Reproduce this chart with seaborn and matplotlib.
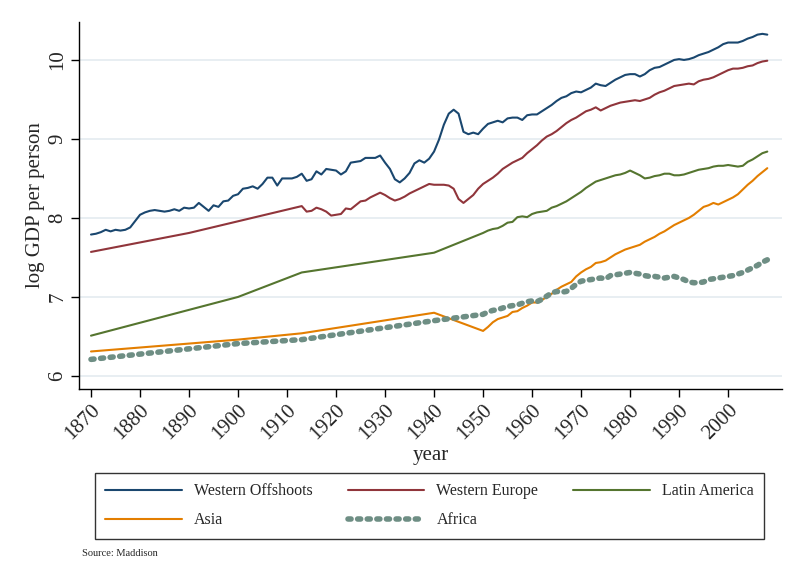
import matplotlib
matplotlib.use("Agg")
import matplotlib.pyplot as plt
import seaborn as sns
import numpy as np
import pandas as pd

# Western Offshoots, annual 1870-2008
wo_years = list(range(1870, 2009))
wo_vals = [
    7.79, 7.80, 7.82, 7.85, 7.83, 7.85, 7.84, 7.85, 7.88, 7.96,
    8.04, 8.07, 8.09, 8.10, 8.09, 8.08, 8.09, 8.11, 8.09, 8.13,
    8.12, 8.13, 8.19, 8.14, 8.09, 8.16, 8.14, 8.21, 8.22, 8.28,
    8.30, 8.37, 8.38, 8.40, 8.37, 8.43, 8.51, 8.51, 8.41, 8.50,
    8.50, 8.50, 8.52, 8.56, 8.47, 8.49, 8.59, 8.55, 8.62, 8.61,
    8.60, 8.55, 8.59, 8.70, 8.71, 8.72, 8.76, 8.76, 8.76, 8.79,
    8.70, 8.62, 8.49, 8.45, 8.50, 8.57, 8.69, 8.73, 8.70, 8.75,
    8.84, 8.99, 9.18, 9.32, 9.37, 9.32, 9.09, 9.06, 9.08, 9.06,
    9.13, 9.19, 9.21, 9.23, 9.21, 9.26, 9.27, 9.27, 9.24, 9.30,
    9.31, 9.31, 9.35, 9.39, 9.43, 9.48, 9.52, 9.54, 9.58, 9.60,
    9.59, 9.62, 9.65, 9.70, 9.68, 9.67, 9.71, 9.75, 9.78, 9.81,
    9.82, 9.82, 9.79, 9.82, 9.87, 9.90, 9.91, 9.94, 9.97, 10.00,
    10.01, 10.00, 10.01, 10.03, 10.06, 10.08, 10.10, 10.13, 10.16, 10.20,
    10.22, 10.22, 10.22, 10.24, 10.27, 10.29, 10.32, 10.33, 10.32,
]

# Western Europe: benchmarks then annual from 1913
we_years = [1870, 1890] + list(range(1913, 2009))
we_vals = [
    7.57, 7.81,
    8.15, 8.08, 8.09, 8.13, 8.11, 8.08, 8.03, 8.04, 8.05, 8.12,
    8.11, 8.16, 8.21, 8.22, 8.26, 8.29, 8.32, 8.29, 8.25, 8.22,
    8.24, 8.27, 8.31, 8.34, 8.37, 8.40, 8.43, 8.42, 8.42, 8.42,
    8.41, 8.37, 8.24, 8.19, 8.24, 8.29, 8.37, 8.43, 8.47, 8.51,
    8.56, 8.62, 8.66, 8.70, 8.73, 8.76, 8.82, 8.87, 8.92, 8.98,
    9.03, 9.06, 9.10, 9.15, 9.20, 9.24, 9.27, 9.31, 9.35, 9.37,
    9.40, 9.36, 9.39, 9.42, 9.44, 9.46, 9.47, 9.48, 9.49, 9.48,
    9.50, 9.52, 9.56, 9.59, 9.61, 9.64, 9.67, 9.68, 9.69, 9.70,
    9.69, 9.73, 9.75, 9.76, 9.78, 9.81, 9.84, 9.87, 9.89, 9.89,
    9.90, 9.92, 9.93, 9.96, 9.98, 9.99,
]

# Latin America: benchmarks then annual from 1950
la_years = [1870, 1900, 1913, 1940] + list(range(1950, 2009))
la_vals = [
    6.51, 7.00, 7.31, 7.56,
    7.81, 7.84, 7.86, 7.87, 7.90, 7.94, 7.95, 8.01, 8.02, 8.01,
    8.05, 8.07, 8.08, 8.09, 8.13, 8.15, 8.18, 8.21, 8.25, 8.29,
    8.33, 8.38, 8.42, 8.46, 8.48, 8.50, 8.52, 8.54, 8.55, 8.57,
    8.60, 8.57, 8.54, 8.50, 8.51, 8.53, 8.54, 8.56, 8.56, 8.54,
    8.54, 8.55, 8.57, 8.59, 8.61, 8.62, 8.63, 8.65, 8.66, 8.66,
    8.67, 8.66, 8.65, 8.66, 8.71, 8.74, 8.78, 8.82, 8.84,
]

# Asia
as_years = [1870, 1900, 1913, 1940] + list(range(1950, 2009))
as_vals = [
    6.31, 6.46, 6.54, 6.80,
    6.57, 6.62, 6.68, 6.72, 6.74, 6.76, 6.81, 6.82, 6.86, 6.89,
    6.93, 6.93, 6.96, 7.00, 7.04, 7.09, 7.13, 7.16, 7.19, 7.26,
    7.31, 7.35, 7.38, 7.43, 7.44, 7.46, 7.50, 7.54, 7.57, 7.60,
    7.62, 7.64, 7.66, 7.70, 7.73, 7.76, 7.80, 7.83, 7.87, 7.91,
    7.94, 7.97, 8.00, 8.04, 8.09, 8.14, 8.16, 8.19, 8.17, 8.20,
    8.23, 8.26, 8.30, 8.36, 8.42, 8.47, 8.53, 8.58, 8.63,
]

# Africa
af_years = [1870, 1900, 1913, 1940] + list(range(1950, 2009))
af_vals = [
    6.21, 6.41, 6.46, 6.70,
    6.78, 6.81, 6.83, 6.84, 6.86, 6.88, 6.89, 6.90, 6.92, 6.94,
    6.95, 6.94, 6.97, 7.01, 7.05, 7.07, 7.06, 7.07, 7.11, 7.16,
    7.20, 7.21, 7.22, 7.23, 7.24, 7.23, 7.27, 7.28, 7.29, 7.30,
    7.31, 7.30, 7.29, 7.27, 7.26, 7.26, 7.25, 7.24, 7.25, 7.26,
    7.24, 7.22, 7.19, 7.18, 7.18, 7.19, 7.22, 7.23, 7.24, 7.25,
    7.26, 7.27, 7.29, 7.31, 7.34, 7.37, 7.40, 7.44, 7.47,
]

x_ticks = list(range(1870, 2001, 10))
y_ticks = [6, 7, 8, 9, 10]

sns.set_theme(style="ticks")
plt.rcParams["font.family"] = ["Liberation Serif", "DejaVu Serif"]

W, H = 802, 581
fig = plt.figure(figsize=(W / 100, H / 100), dpi=100)
ax = fig.add_axes([79 / W, 1 - 389 / H, 703 / W, 367 / H])

series = [
    ("Western Offshoots", wo_years, wo_vals, "#1a476f"),
    ("Western Europe", we_years, we_vals, "#90353b"),
    ("Latin America", la_years, la_vals, "#55752f"),
    ("Asia", as_years, as_vals, "#e37e00"),
]
for name, yrs, vals, col in series:
    sns.lineplot(x=yrs, y=vals, ax=ax, color=col, linewidth=1.5,
                 label=name, estimator=None, sort=False)

sns.lineplot(x=af_years, y=af_vals, ax=ax, color="#6e8e84", linewidth=4,
             linestyle=(0, (0.55, 1.18)), dash_capstyle="round",
             label="Africa", estimator=None, sort=False)

ax.set_xlim(1867.55, 2011.0)
ax.set_ylim(5.835, 10.48)
ax.set_xticks(x_ticks)
ax.set_yticks(y_ticks)
ax.yaxis.grid(True, color="#e6edf1", linewidth=1.3)
ax.set_axisbelow(True)
sns.despine(ax=ax)
for s in ["left", "bottom"]:
    ax.spines[s].set_color("black")
    ax.spines[s].set_linewidth(1.0)

ax.tick_params(axis="both", direction="out", length=5.5, width=1,
               color="black", labelsize=15, pad=3)
plt.setp(ax.get_xticklabels(), rotation=45, ha="right", rotation_mode="anchor")
plt.setp(ax.get_yticklabels(), rotation=90, va="center")

ax.set_xlabel("year", fontsize=15)
ax.set_ylabel("log GDP per person", fontsize=15)
ax.xaxis.set_label_coords(0.5, -0.155)
ax.yaxis.set_label_coords(-0.049, 0.5)

handles, labels = ax.get_legend_handles_labels()
ax.get_legend().remove()
order = [0, 3, 1, 4, 2]
leg = fig.legend([handles[i] for i in order], [labels[i] for i in order],
                 loc="upper left", bbox_to_anchor=(95 / W, 0, 669 / W, 1 - 473 / H),
                 mode="expand", ncol=3, frameon=True, fancybox=False,
                 edgecolor="black", fontsize=11.5, handlelength=4.8,
                 handletextpad=0.75, borderpad=0.65, labelspacing=0.8,
                 borderaxespad=0)
leg.get_frame().set_linewidth(1.0)

fig.text(82 / W, 1 - 553 / H, "Source: Maddison", fontsize=7.5, va="center")

fig.savefig("out.png", dpi=100, facecolor="white")
